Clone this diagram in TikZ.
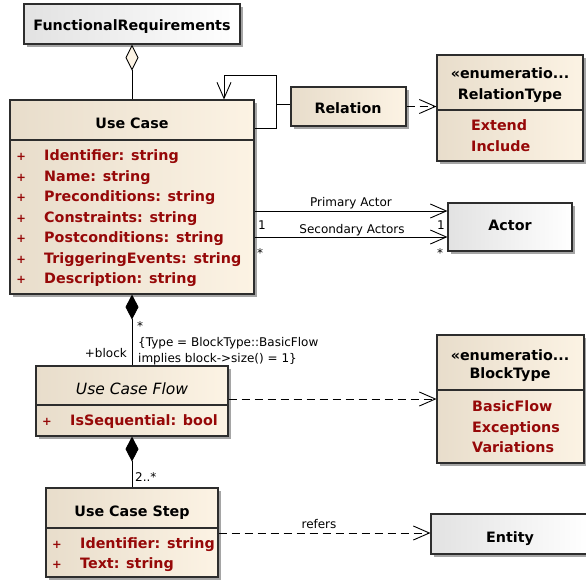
\documentclass[tikz,border=0pt]{standalone}
\usepackage{fontspec}
\setmainfont{DejaVu Sans}
\usetikzlibrary{arrows.meta,shadows}
\definecolor{beigeL}{RGB}{232,221,203}
\definecolor{beigeR}{RGB}{252,243,228}
\definecolor{grayL}{RGB}{226,226,226}
\definecolor{attr}{RGB}{150,8,8}
\definecolor{shad}{RGB}{165,165,165}
\definecolor{edge}{RGB}{45,45,45}
\begin{document}
\begin{tikzpicture}[x=1pt,y=-1pt,
  box/.style={draw=edge, line width=1.1pt, inner sep=0pt,
    drop shadow={shadow xshift=3pt,shadow yshift=-3pt,fill=shad,opacity=1}},
  cls/.style={box, left color=beigeL, right color=beigeR},
  gcls/.style={box, left color=grayL, right color=white},
  ttl/.style={font=\fontsize{14.3}{17}\selectfont\bfseries, inner sep=0pt, anchor=base},
  atr/.style={ttl, text=attr, anchor=base west},
  pls/.style={font=\fontsize{11.5}{14}\selectfont\bfseries, inner sep=0pt, text=attr, anchor=base},
  lbl/.style={font=\fontsize{12}{14}\selectfont, inner sep=0pt, anchor=base},
  divider/.style={draw=edge, line width=1.1pt},
  conn/.style={draw=black, line width=0.9pt},
  opentip/.style={-{Straight Barb[length=16pt,width=14pt]}},
  dep/.style={conn, dash pattern=on 8pt off 5pt, opentip}
]
\useasboundingbox (0,0) rectangle (586,579);

% ---------- boxes ----------
\node[gcls, minimum width=216pt, minimum height=40pt] (fr) at (132,24) {};
\node[cls, minimum width=244pt, minimum height=194pt] (uc) at (132,197) {};
\node[cls, minimum width=115pt, minimum height=39pt] (rel) at (348.5,106.5) {};
\node[cls, minimum width=146pt, minimum height=106pt] (rt) at (510,108) {};
\node[gcls, minimum width=124pt, minimum height=48pt] (actor) at (510,227) {};
\node[cls, minimum width=192pt, minimum height=70pt] (ucf) at (132,401) {};
\node[cls, minimum width=147pt, minimum height=128pt] (bt) at (510.5,399) {};
\node[cls, minimum width=172pt, minimum height=89pt] (ucs) at (132,532.5) {};
\node[gcls, minimum width=158pt, minimum height=40pt] (ent) at (510,534) {};

% dividers
\coordinate (dUC) at (0,140);
\coordinate (dRT) at (0,110);
\coordinate (dUCF) at (0,405);
\coordinate (dBT) at (0,390);
\coordinate (dUCS) at (0,528);
\draw[divider] (uc.west |- dUC) -- (uc.east |- dUC);
\draw[divider] (rt.west |- dRT) -- (rt.east |- dRT);
\draw[divider] (ucf.west |- dUCF) -- (ucf.east |- dUCF);
\draw[divider] (bt.west |- dBT) -- (bt.east |- dBT);
\draw[divider] (ucs.west |- dUCS) -- (ucs.east |- dUCS);

% ---------- texts ----------
\node[ttl] (frT) at (132,30.5) {FunctionalRequirements};
\node[ttl] (ucT) at (132,128) {Use Case};
\foreach \yy/\tt [count=\i] in {160.5/Identifier: string, 181/Name: string, 201.5/Preconditions: string, 222/Constraints: string, 242.5/Postconditions: string, 263/TriggeringEvents: string, 283.5/Description: string}{
  \node[pls] (ucP\i) at (21.3,\yy) {+};
  \node[atr] (ucA\i) at (44,\yy) {\tt};
}
\node[ttl] (relT) at (348,113.5) {Relation};
\node[ttl] (rtS) at (510,78.3) {«enumeratio...};
\node[ttl] (rtT) at (510,99) {RelationType};
\node[atr] (rt1) at (471,130.5) {Extend};
\node[atr] (rt2) at (471,151.5) {Include};
\node[ttl] (actT) at (510,230.5) {Actor};
\node[ttl, font=\fontsize{15.5}{18}\selectfont\itshape] (ucfT) at (132,394) {Use Case Flow};
\node[pls] (ucfP) at (47,425.5) {+};
\node[atr] (ucfA) at (70,425.5) {IsSequential: bool};
\node[ttl] (btS) at (510,360) {«enumeratio...};
\node[ttl] (btT) at (510,378) {BlockType};
\node[atr] (bt1) at (472,411.5) {BasicFlow};
\node[atr] (bt2) at (472,432) {Exceptions};
\node[atr] (bt3) at (472,452.5) {Variations};
\node[ttl] (ucsT) at (132,516.5) {Use Case Step};
\node[pls] (ucsP1) at (57,548.5) {+};
\node[atr] (ucsA1) at (80,548.5) {Identifier: string};
\node[pls] (ucsP2) at (57,568.5) {+};
\node[atr] (ucsA2) at (80,568.5) {Text: string};
\node[ttl] (entT) at (510,542) {Entity};

% ---------- connectors ----------
% aggregation FunctionalRequirements <>-- Use Case
\draw[conn, {Diamond[length=26pt,width=13pt,fill=beigeR]}-] (fr.south) -- (uc.north);

% self association Use Case (Relation)
\coordinate (lpB) at (276,128);
\coordinate (lpC) at (276,75);
\coordinate (lpTop) at (224,75);
\draw[conn, opentip] (uc.east |- lpB) -- (lpB) -- (lpC) -- (lpTop) -- (lpTop |- uc.north);
\coordinate (relA) at (276,104);
\draw[conn] (relA) -- (relA -| rel.west);
\draw[dep] (rel.east) -- (rel.east -| rt.west);

% actors
\coordinate (pY) at (0,211);
\coordinate (sY) at (0,237);
\draw[conn, opentip] (uc.east |- pY) -- (actor.west |- pY);
\draw[conn, opentip] (uc.east |- sY) -- (actor.west |- sY);
\node[lbl] (pLab) at (351,206.5) {Primary Actor};
\node[lbl] (sLab) at (352,233.5) {Secondary Actors};
\node[lbl, anchor=base west] (m1) at (258,229) {1};
\node[lbl, anchor=base west] (m2) at (257,257) {*};
\node[lbl, anchor=base west] (m3) at (437,229) {1};
\node[lbl, anchor=base west] (m4) at (437,257) {*};

% composition Use Case -- Use Case Flow
\draw[conn, {Diamond[length=25pt,width=13pt]}-] (uc.south) -- (ucf.north);
\node[lbl, anchor=base west] (cStar) at (137,330) {*};
\node[lbl, anchor=base west] (cCon1) at (138,346.5) {\{Type = BlockType::BasicFlow};
\node[lbl, anchor=base west] (cCon2) at (138,362.5) {implies block->size() = 1\}};
\node[lbl, anchor=base east] (cRole) at (127,357.5) {+block};

% dependency Use Case Flow -> BlockType
\coordinate (dY) at (0,399);
\draw[dep] (ucf.east |- dY) -- (bt.west |- dY);

% composition Use Case Flow -- Use Case Step
\draw[conn, {Diamond[length=25pt,width=13pt]}-] (ucf.south) -- (ucs.north);
\node[lbl, anchor=base west] (cMul) at (135,481) {2..*};

% refers
\coordinate (rY) at (0,533);
\draw[dep] (ucs.east |- rY) -- (ent.west |- rY);
\node[lbl] (refLab) at (319,528.5) {refers};
\end{tikzpicture}
\end{document}
